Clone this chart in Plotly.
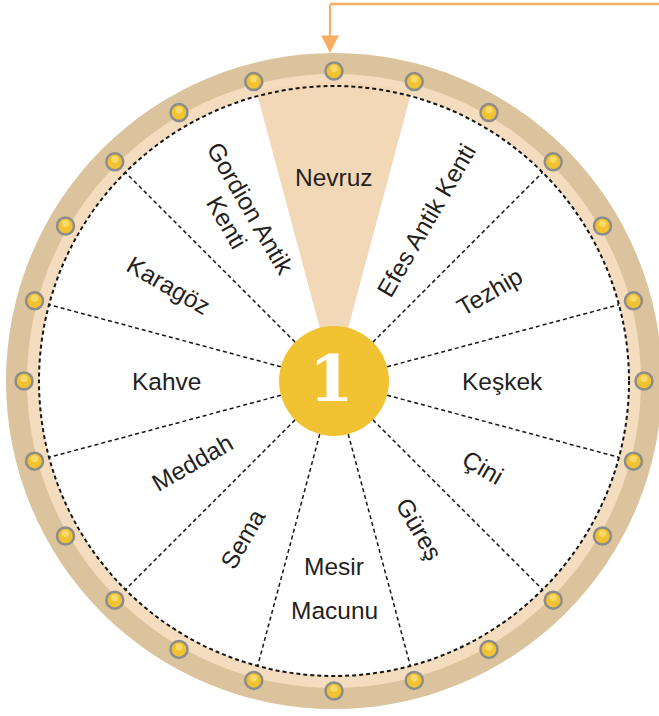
import numpy as np
import plotly.graph_objects as go

# ---- data ----
labels = ["Nevruz", "Efes Antik Kenti", "Tezhip", "Keşkek", "Çini", "Güreş",
          "Mesir\nMacunu", "Sema", "Meddah", "Kahve", "Karagöz", "Gordion Antik\nKenti"]
segment_angles = [0, 30, 60, 90, 120, 150, 180, 210, 240, 270, 300, 330]  # clockwise from top
highlight = "Nevruz"
center_number = "1"

# ---- layout / style ----
W, H = 659, 716
CX, CY = 334, 381
R_OUT, R_BAND, R_DOT, R_BOLT, R_HUB = 328, 307, 295, 310, 55
label_r = [204, 185, 180, 168, 172, 171, 207, 183, 163, 168, 191, 191]
line_gap = [0, 0, 0, 0, 0, 0, 44, 0, 0, 0, 0, 27]
SEG_W = 30

TAN = "#DBC49D"
PEACH = "#F4DCBE"
WEDGE = "#F3D8B7"
GOLD = "#F1C232"
TEXT = "#231F20"
ORANGE = "#F7AE62"
FONT = dict(family="Liberation Sans, Arial", size=24.5, color=TEXT)


def pol(r, th):
    t = np.radians(th)
    return CX + r * np.sin(t), CY - r * np.cos(t)


fig = go.Figure()


def disc(r, color, layer="below"):
    return dict(type="circle", xref="x", yref="y", x0=CX - r, x1=CX + r, y0=CY - r, y1=CY + r,
                fillcolor=color, line=dict(width=0), layer=layer)


shapes = [disc(R_OUT, TAN), disc(R_BAND, PEACH), disc(R_DOT, "white")]

# highlighted wedge
hi = labels.index(highlight)
th0 = segment_angles[hi]
arc = np.linspace(th0 - SEG_W / 2, th0 + SEG_W / 2, 40)
wx, wy = pol(R_DOT + 4, arc)
fig.add_trace(go.Scatter(x=np.r_[CX, wx, CX], y=np.r_[CY, wy, CY], mode="lines", fill="toself",
                         fillcolor=WEDGE, line=dict(width=0), hoverinfo="skip"))

# dashed segment boundaries
for i, th in enumerate(segment_angles):
    b = th + SEG_W / 2
    nxt = (i + 1) % len(segment_angles)
    if hi in (i, nxt):
        continue
    xs, ys = pol(np.array([R_HUB, R_DOT]), b)
    fig.add_trace(go.Scatter(x=xs, y=ys, mode="lines", hoverinfo="skip",
                             line=dict(color="#161616", width=1.5, dash="4px,3px")))

# dotted circle
shapes.append(dict(type="circle", xref="x", yref="y", x0=CX - R_DOT, x1=CX + R_DOT,
                   y0=CY - R_DOT, y1=CY + R_DOT, line=dict(color="#151515", width=2, dash="4px,3px"),
                   layer="above"))

# bolts
bolt_angles = np.arange(0, 360, 15)
bx, by = pol(R_BOLT, bolt_angles)
fig.add_trace(go.Scatter(x=bx, y=by, mode="markers", hoverinfo="skip",
                         marker=dict(size=17, color=GOLD, line=dict(color="#8C8C8C", width=2.5))))
fig.add_trace(go.Scatter(x=bx, y=by - 2.5, mode="markers", hoverinfo="skip",
                         marker=dict(size=7, color="#F8DA6A", line=dict(width=0))))

# hub
shapes.append(disc(R_HUB, GOLD, layer="above"))

# arrow line
shapes.append(dict(type="line", xref="x", yref="y", x0=330, x1=W + 5, y0=4, y1=4,
                   line=dict(color=ORANGE, width=2.5), layer="above"))

annotations = [dict(x=330, y=53, ax=330, ay=3, xref="x", yref="y", axref="x", ayref="y",
                    text="", showarrow=True, arrowhead=2, arrowsize=1.6, arrowwidth=2.2,
                    arrowcolor=ORANGE)]

# labels
for lab, th, r, gap in zip(labels, segment_angles, label_r, line_gap):
    a = 0 if th % 180 == 0 else (th % 180) - 90
    x0, y0 = pol(r, th)
    lines = lab.split("\n")
    n = len(lines)
    if gap == 0:
        annotations.append(dict(x=x0, y=y0, xref="x", yref="y", text="<br>".join(lines),
                                showarrow=False, textangle=a, align="center", font=FONT))
        continue
    ar = np.radians(a)
    dx, dy = -np.sin(ar), np.cos(ar)
    for k, ln in enumerate(lines):
        off = (k - (n - 1) / 2) * gap
        annotations.append(dict(x=x0 + dx * off, y=y0 + dy * off, xref="x", yref="y", text=ln,
                                showarrow=False, textangle=a, font=FONT))

annotations.append(dict(x=CX - 3, y=CY - 3, xref="x", yref="y", text="<b>" + center_number + "</b>",
                        showarrow=False, font=dict(family="DejaVu Serif", size=64, color="white")))

fig.update_layout(
    width=W, height=H, margin=dict(l=0, r=0, t=0, b=0),
    paper_bgcolor="white", plot_bgcolor="white", showlegend=False,
    xaxis=dict(range=[0, W], visible=False, fixedrange=True),
    yaxis=dict(range=[H, 0], visible=False, fixedrange=True),
    shapes=shapes, annotations=annotations,
)

fig.write_html("out.html", config={"displayModeBar": False},
               post_script="document.body.style.margin='0';document.body.style.overflow='hidden';")
